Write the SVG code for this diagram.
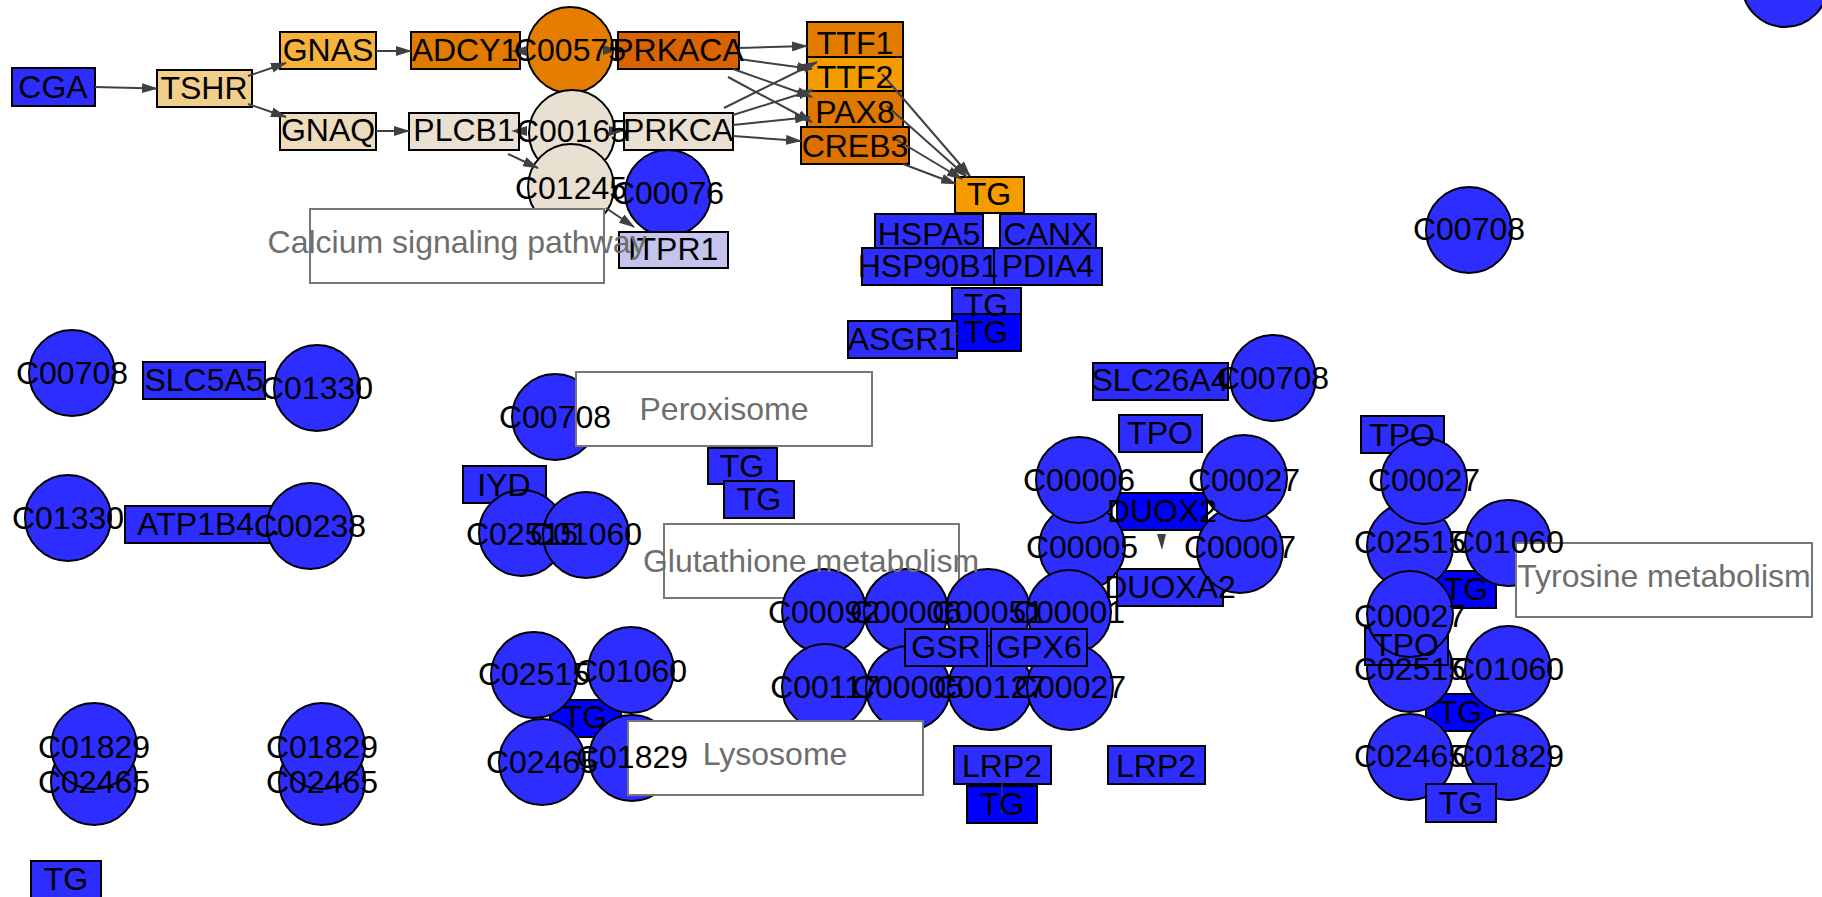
<svg xmlns="http://www.w3.org/2000/svg" width="1822" height="897" viewBox="0 0 1822 897">
<defs>
<style>
.b{fill:#2d2dff;stroke:#000;stroke-width:2}
.bb{fill:#0000ff;stroke:#000;stroke-width:2}
.o1{fill:#e07b00;stroke:#000;stroke-width:2}
.o2{fill:#f49b00;stroke:#000;stroke-width:2}
.o3{fill:#d86300;stroke:#000;stroke-width:2}
.be{fill:#e9e0d2;stroke:#000;stroke-width:2}
.pb{fill:#fff;stroke:#777;stroke-width:2}
.t{font-family:"Liberation Sans",Arial,sans-serif;font-size:32px;fill:#000;text-anchor:middle}
.pt{fill:#6e6e6e}
.e{stroke:#404040;stroke-width:2;fill:none;marker-end:url(#arr)}
.ah{fill:#404040}
.thin{stroke:#404040;stroke-width:1.2;fill:none}
</style>
<marker id="arr" markerWidth="16" markerHeight="10" refX="15" refY="5" orient="auto" markerUnits="userSpaceOnUse"><path d="M0,0 L16,5 L0,10 z" fill="#404040"/></marker>
</defs>
<rect width="1822" height="897" fill="#fff"/>
<g id="nodes">
<g id="n-CGA"><rect class="b" x="12" y="68" width="83" height="38"/></g>
<g id="n-TSHR"><rect x="157" y="70" width="95" height="37" fill="#f1cf8b" stroke="#000" stroke-width="2"/></g>
<g id="n-GNAS"><rect x="280" y="32" width="96" height="37" fill="#f7b23b" stroke="#000" stroke-width="2"/></g>
<g id="n-GNAQ"><rect x="280" y="113" width="96" height="37" fill="#eddbbd" stroke="#000" stroke-width="2"/></g>
<g id="n-ADCY1"><rect class="o1" x="411" y="32" width="109" height="37"/></g>
<g id="n-PLCB1"><rect class="be" x="409" y="113" width="110" height="37"/></g>
<g id="n-C00575"><circle cx="570" cy="50" r="43" fill="#e57e00" stroke="#000" stroke-width="2"/></g>
<g id="n-C00165"><circle class="be" cx="572" cy="133" r="43"/></g>
<g id="n-C01245"><circle class="be" cx="571" cy="187" r="43"/></g>
<g id="n-PRKACA"><rect class="o3" x="618" y="32" width="121" height="37"/></g>
<g id="n-PRKCA"><rect class="be" x="624" y="113" width="109" height="37"/></g>
<g id="n-C00076"><circle class="b" cx="668" cy="193" r="43"/></g>
<g id="p-calcium"><rect class="pb" x="310" y="209" width="294" height="74"/></g>
<g id="n-ITPR1"><rect x="619" y="232" width="109" height="36" fill="#c4c4ee" stroke="#000" stroke-width="2"/></g>
<g id="n-TTF1"><rect class="o1" x="807" y="22" width="96" height="37"/></g>
<g id="n-TTF2"><rect class="o2" x="807" y="57" width="96" height="37"/></g>
<g id="n-PAX8"><rect x="807" y="91" width="96" height="37" fill="#e07800" stroke="#000" stroke-width="2"/></g>
<g id="n-CREB3"><rect x="801" y="127" width="108" height="37" fill="#de7000" stroke="#000" stroke-width="2"/></g>
<g id="n-TG1"><rect class="o2" x="955" y="177" width="69" height="36"/></g>
<g id="n-HSPA5"><rect class="b" x="875" y="214" width="108" height="37"/></g>
<g id="n-CANX"><rect class="b" x="1000" y="214" width="96" height="37"/></g>
<g id="n-HSP90B1"><rect class="b" x="862" y="248" width="132" height="37"/></g>
<g id="n-PDIA4"><rect class="b" x="994" y="248" width="108" height="37"/></g>
<g id="n-TG2"><rect class="b" x="952" y="288" width="69" height="37"/></g>
<g id="n-TG3"><rect class="bb" x="952" y="314" width="69" height="37"/></g>
<g id="n-ASGR1"><rect class="b" x="848" y="321" width="109" height="37"/></g>

<g id="n-C00708-tr"><circle class="b" cx="1469" cy="230" r="43"/></g>
<g id="n-corner"><circle class="b" cx="1785" cy="-16" r="43"/></g>

<g id="n-C00708-l"><circle class="b" cx="72" cy="373" r="43"/></g>
<g id="n-SLC5A5"><rect class="b" x="143" y="362" width="122" height="37"/></g>
<g id="n-C01330-a"><circle class="b" cx="317" cy="388" r="43"/></g>
<g id="n-C01330-b"><circle class="b" cx="68" cy="518" r="43"/></g>
<g id="n-ATP1B4"><rect class="b" x="125" y="506" width="168" height="37"/></g>
<g id="n-C00238"><circle class="b" cx="310" cy="526" r="43"/></g>

<g id="n-C00708-p"><circle class="b" cx="555" cy="417" r="43"/></g>
<g id="p-peroxisome"><rect class="pb" x="576" y="372" width="296" height="74"/></g>
<g id="n-TG-p1"><rect class="b" x="708" y="448" width="69" height="36"/></g>
<g id="n-TG-p2"><rect class="b" x="724" y="481" width="70" height="37"/></g>
<g id="n-IYD"><rect class="b" x="463" y="466" width="83" height="37"/></g>
<g id="n-C02515-p"><circle class="b" cx="522" cy="533" r="43"/></g>
<g id="n-C01060-p"><circle class="b" cx="586" cy="535" r="43"/></g>

<g id="p-glutathione"><rect class="pb" x="664" y="524" width="295" height="74"/></g>
<g id="n-C00092"><circle class="b" cx="824" cy="611" r="42"/></g>
<g id="n-C00006-g"><circle class="b" cx="906" cy="611" r="42"/></g>
<g id="n-C00051"><circle class="b" cx="988" cy="611" r="42"/></g>

<g id="n-TPO-d"><rect class="b" x="1119" y="415" width="83" height="37"/></g>
<g id="n-DUOX2"><rect class="bb" x="1117" y="493" width="90" height="37"/></g>
<g id="n-DUOXA2"><rect class="b" x="1117" y="569" width="106" height="37"/></g>
<g id="n-C00005-d"><circle class="b" cx="1082" cy="547" r="43"/></g>
<g id="n-C00007-d"><circle class="b" cx="1240" cy="550" r="43"/></g>
<g id="n-C00006-d"><circle class="b" cx="1079" cy="480" r="43"/></g>
<g id="n-C00027-d"><circle class="b" cx="1244" cy="478" r="43"/></g>

<g id="n-C00001"><circle class="b" cx="1069" cy="612" r="42"/></g>
<g id="n-C00117"><circle class="b" cx="825" cy="687" r="43"/></g>
<g id="n-C00005-g"><circle class="b" cx="908" cy="688" r="42"/></g>
<g id="n-C00127"><circle class="b" cx="990" cy="688" r="42"/></g>
<g id="n-C00027-g"><circle class="b" cx="1070" cy="687" r="43"/></g>
<g id="n-GSR"><rect class="b" x="905" y="629" width="82" height="37"/></g>
<g id="n-GPX6"><rect class="b" x="991" y="629" width="96" height="37"/></g>

<g id="n-SLC26A4"><rect class="b" x="1093" y="363" width="135" height="37"/></g>
<g id="n-C00708-s"><circle class="b" cx="1273" cy="378" r="43"/></g>

<g id="n-TPO-t1"><rect class="b" x="1361" y="416" width="83" height="37"/></g>
<g id="n-TG-t1"><rect class="bb" x="1437" y="571" width="59" height="37"/></g>
<g id="n-TG-t2"><rect class="bb" x="1426" y="694" width="69" height="37"/></g>
<g id="n-C02515-t1"><circle class="b" cx="1410" cy="546" r="43"/></g>
<g id="n-C01060-t1"><circle class="b" cx="1508" cy="543" r="43"/></g>
<g id="n-C00027-t1"><circle class="b" cx="1424" cy="481" r="43"/></g>
<g id="p-tyrosine"><rect class="pb" x="1516" y="543" width="296" height="74"/></g>
<g id="n-C02515-t2"><circle class="b" cx="1410" cy="669" r="43"/></g>
<g id="n-C01060-t2"><circle class="b" cx="1508" cy="669" r="43"/></g>
<g id="n-TPO-t2"><rect class="b" x="1365" y="628" width="83" height="37"/></g>
<g id="n-C00027-t2"><circle class="b" cx="1410" cy="614" r="43"/></g>
<g id="n-C02465-t"><circle class="b" cx="1410" cy="757" r="43"/></g>
<g id="n-C01829-t"><circle class="b" cx="1508" cy="757" r="43"/></g>
<g id="n-TG-t3"><rect class="b" x="1426" y="784" width="70" height="38"/></g>

<g id="n-TG-l"><rect class="bb" x="550" y="700" width="71" height="37"/></g>
<g id="n-C02515-l"><circle class="b" cx="534" cy="675" r="43"/></g>
<g id="n-C01060-l"><circle class="b" cx="631" cy="670" r="43"/></g>
<g id="n-C02465-l"><circle class="b" cx="542" cy="762" r="43"/></g>
<g id="n-C01829-l"><circle class="b" cx="632" cy="758" r="43"/></g>
<g id="p-lysosome"><rect class="pb" x="628" y="721" width="295" height="74"/></g>

<g id="n-C02465-b1"><circle class="b" cx="94" cy="782" r="43"/></g>
<g id="n-C01829-b1"><circle class="b" cx="94" cy="746" r="43"/></g>
<g id="n-C02465-b2"><circle class="b" cx="322" cy="782" r="43"/></g>
<g id="n-C01829-b2"><circle class="b" cx="322" cy="746" r="43"/></g>
<g id="n-TG-bl"><rect class="b" x="31" y="861" width="70" height="40"/></g>

<g id="n-LRP2-a"><rect class="b" x="954" y="746" width="97" height="38"/></g>
<g id="n-TG-lrp"><rect class="bb" x="967" y="786" width="70" height="37"/></g>
<g id="n-LRP2-b"><rect class="b" x="1108" y="746" width="97" height="38"/></g>
</g>

<g id="connectors">
<path class="e" d="M95,87 L157,88.5"/>
<path class="e" d="M248,76 L286,63"/>
<path class="e" d="M248,104 L286,117"/>
<path class="e" d="M376,51 L411,51"/>
<path class="e" d="M376,131 L409,131"/>
<polygon class="ah" points="511,51 527,46 527,56"/>
<polygon class="ah" points="511,131 527,126 527,136"/>
<polygon class="ah" points="618,50 603,45 603,55"/>
<polygon class="ah" points="624,131 609,126 609,136"/>
<path class="e" d="M508,154 L538,168"/>
<path class="e" d="M606,208 L634,227"/>
<path class="e" d="M739,48 L807,46"/>
<path class="e" d="M739,59 L812,69"/>
<path class="e" d="M733,69 L812,97"/>
<path class="e" d="M728,77 L812,122"/>
<path class="e" d="M724,108 L817,62"/>
<path class="e" d="M733,115 L813,90"/>
<path class="e" d="M733,125 L810,117"/>
<path class="e" d="M733,136 L801,141"/>
<path class="e" d="M882,74 L970,176"/>
<path class="e" d="M887,106 L967,177"/>
<path class="e" d="M892,137 L962,179"/>
<path class="e" d="M903,164 L956,184"/>
<path class="thin" d="M950,334 L958,334"/>
<polygon class="ah" points="1157,534 1166,534 1162,550"/>
<path class="thin" d="M1002,780 L1002,813"/>
<path class="thin" d="M560,698 L563,702 M606,696 L603,700 M566,737 L563,741 M604,735 L607,739"/>
<path class="thin" d="M1437,693 L1440,696 M1482,693 L1480,696 M1437,731 L1440,734 M1482,731 L1481,734"/>
<path class="thin" d="M1437,566 L1440,569 M1482,566 L1480,569"/>
</g>

<g id="labels" class="t">
<text x="53" y="98">CGA</text>
<text x="204" y="99">TSHR</text>
<text x="328" y="61">GNAS</text>
<text x="328" y="141">GNAQ</text>
<text x="465" y="61">ADCY1</text>
<text x="464" y="141">PLCB1</text>
<text x="570" y="61">C00575</text>
<text x="572" y="142">C00165</text>
<text x="571" y="199">C01245</text>
<text x="678" y="61">PRKACA</text>
<text x="678" y="141">PRKCA</text>
<text x="668" y="204">C00076</text>
<text x="673" y="260">ITPR1</text>
<text class="pt" x="457" y="253">Calcium signaling pathway</text>
<text x="855" y="54">TTF1</text>
<text x="855" y="88">TTF2</text>
<text x="855" y="123">PAX8</text>
<text x="855" y="157">CREB3</text>
<text x="989" y="205">TG</text>
<text x="929" y="245">HSPA5</text>
<text x="1048" y="245">CANX</text>
<text x="928" y="277">HSP90B1</text>
<text x="1048" y="277">PDIA4</text>
<text x="986" y="316">TG</text>
<text x="986" y="343">TG</text>
<text x="902" y="350">ASGR1</text>
<text x="1469" y="240">C00708</text>
<text x="72" y="384">C00708</text>
<text x="204" y="391">SLC5A5</text>
<text x="317" y="399">C01330</text>
<text x="68" y="529">C01330</text>
<text x="209" y="535">ATP1B4...</text>
<text x="310" y="537">C00238</text>
<text x="555" y="428">C00708</text>
<text class="pt" x="724" y="420">Peroxisome</text>
<text x="742" y="477">TG</text>
<text x="759" y="510">TG</text>
<text x="504" y="496">IYD</text>
<text x="522" y="545">C02515</text>
<text x="586" y="545">C01060</text>
<text class="pt" x="811" y="572">Glutathione metabolism</text>
<text x="824" y="623">C00092</text>
<text x="906" y="623">C00006</text>
<text x="988" y="623">C00051</text>
<text x="1069" y="623">C00001</text>
<text x="825" y="698">C00117</text>
<text x="908" y="698">C00005</text>
<text x="990" y="698">C00127</text>
<text x="1070" y="698">C00027</text>
<text x="946" y="658">GSR</text>
<text x="1039" y="658">GPX6</text>
<text x="1160" y="444">TPO</text>
<text x="1079" y="491">C00006</text>
<text x="1244" y="491">C00027</text>
<text x="1162" y="522">DUOX2</text>
<text x="1082" y="558">C00005</text>
<text x="1240" y="558">C00007</text>
<text x="1170" y="598">DUOXA2</text>
<text x="1160" y="391">SLC26A4</text>
<text x="1273" y="389">C00708</text>
<text x="1402" y="446">TPO</text>
<text x="1424" y="491">C00027</text>
<text x="1410" y="553">C02515</text>
<text x="1508" y="553">C01060</text>
<text x="1466" y="600">TG</text>
<text class="pt" x="1664" y="587">Tyrosine metabolism</text>
<text x="1410" y="627">C00027</text>
<text x="1406" y="656">TPO</text>
<text x="1410" y="680">C02515</text>
<text x="1508" y="680">C01060</text>
<text x="1460" y="723">TG</text>
<text x="1410" y="767">C02465</text>
<text x="1508" y="767">C01829</text>
<text x="1461" y="814">TG</text>
<text x="534" y="685">C02515</text>
<text x="631" y="682">C01060</text>
<text x="585" y="728">TG</text>
<text x="542" y="773">C02465</text>
<text x="632" y="768">C01829</text>
<text class="pt" x="775" y="765">Lysosome</text>
<text x="94" y="758">C01829</text>
<text x="94" y="793">C02465</text>
<text x="322" y="758">C01829</text>
<text x="322" y="793">C02465</text>
<text x="66" y="890">TG</text>
<text x="1002" y="777">LRP2</text>
<text x="1002" y="815">TG</text>
<text x="1156" y="777">LRP2</text>
</g>
</svg>
